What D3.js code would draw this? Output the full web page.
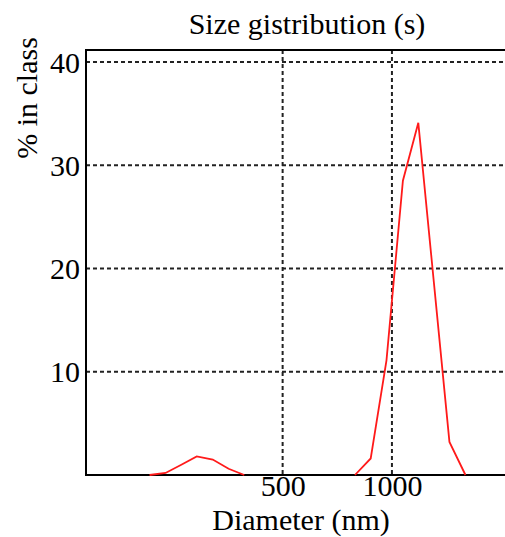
<!DOCTYPE html>
<html>
<head>
<meta charset="utf-8">
<script src="https://cdn.jsdelivr.net/npm/d3@7"></script>
<style>
  body { margin: 0; background: #fff; }
  svg text { font-family: "Liberation Serif", "Times New Roman", serif; fill: #000; }
</style>
</head>
<body>
<div id="chart"></div>
<script>
// Data (diameter in nm, % in class)
const smallDiam = [215, 238, 263, 290, 321, 355, 392];
const smallPct = [0, 0.2, 1.0, 1.8, 1.5, 0.6, 0];
const bigDiam = [791, 874, 966, 1072, 1182, 1305, 1440, 1594];
const bigPct = [0, 1.6, 11.1, 28.5, 34.1, 18.6, 3.2, 0];
const xTicks = [500, 1000];
const yTicks = [10, 20, 30, 40];

const W = 505, H = 537;
const plot = { left: 86, top: 50, right: 530, bottom: 475 };

const svg = d3.select("#chart")
    .append("svg")
    .attr("width", W)
    .attr("height", H);

// Log x scale, linear y
const x = d3.scaleLog()
    .domain([143.7, 2400])
    .range([plot.left, plot.right]);

const y = d3.scaleLinear()
    .domain([0, 41.15])
    .range([plot.bottom, plot.top]);

// Dashed grid
svg.append("g")
    .selectAll("line")
    .data(yTicks)
    .join("line")
    .attr("x1", plot.left)
    .attr("x2", plot.right)
    .attr("y1", d => y(d))
    .attr("y2", d => y(d))
    .attr("stroke", "#222")
    .attr("stroke-width", 2)
    .attr("stroke-dasharray", "4,3");

svg.append("g")
    .selectAll("line")
    .data(xTicks)
    .join("line")
    .attr("x1", d => x(d))
    .attr("x2", d => x(d))
    .attr("y1", plot.top)
    .attr("y2", plot.bottom)
    .attr("stroke", "#222")
    .attr("stroke-width", 2)
    .attr("stroke-dasharray", "4,3");

// Axes (labels only, frame drawn below)
const yAxis = svg.append("g")
    .attr("transform", `translate(${plot.left},0)`)
    .call(d3.axisLeft(y).tickValues(yTicks).tickSize(0).tickPadding(6));
yAxis.select(".domain").remove();
yAxis.selectAll("text")
    .style("font-size", "30px")
    .attr("dy", "0.34em");

const xAxis = svg.append("g")
    .attr("transform", `translate(0,${plot.bottom})`)
    .call(d3.axisBottom(x).tickValues(xTicks).tickFormat(d3.format("d")).tickSize(0));
xAxis.select(".domain").remove();
xAxis.selectAll("text")
    .style("font-size", "30px")
    .attr("y", 21)
    .attr("dy", null);

// Frame
svg.append("path")
    .attr("d", `M${plot.right},${plot.top}H${plot.left}V${plot.bottom}H${plot.right}`)
    .attr("fill", "none")
    .attr("stroke", "#000")
    .attr("stroke-width", 2);

// Distribution lines
const line = d3.line()
    .x(d => x(d[0]))
    .y(d => y(d[1]));

[[smallDiam, smallPct], [bigDiam, bigPct]].forEach(([ds, ps]) => {
    svg.append("path")
        .datum(ds.map((d, i) => [d, ps[i]]))
        .attr("fill", "none")
        .attr("stroke", "#ff1a1a")
        .attr("stroke-width", 1.8)
        .attr("d", line);
});

// Titles
svg.append("text")
    .attr("x", 307)
    .attr("y", 34)
    .attr("text-anchor", "middle")
    .style("font-size", "30px")
    .text("Size gistribution (s)");

svg.append("text")
    .attr("x", 301)
    .attr("y", 530)
    .attr("text-anchor", "middle")
    .style("font-size", "30px")
    .text("Diameter (nm)");

svg.append("text")
    .attr("transform", "translate(37,98) rotate(-90)")
    .attr("text-anchor", "middle")
    .style("font-size", "30px")
    .text("% in class");
</script>
</body>
</html>
